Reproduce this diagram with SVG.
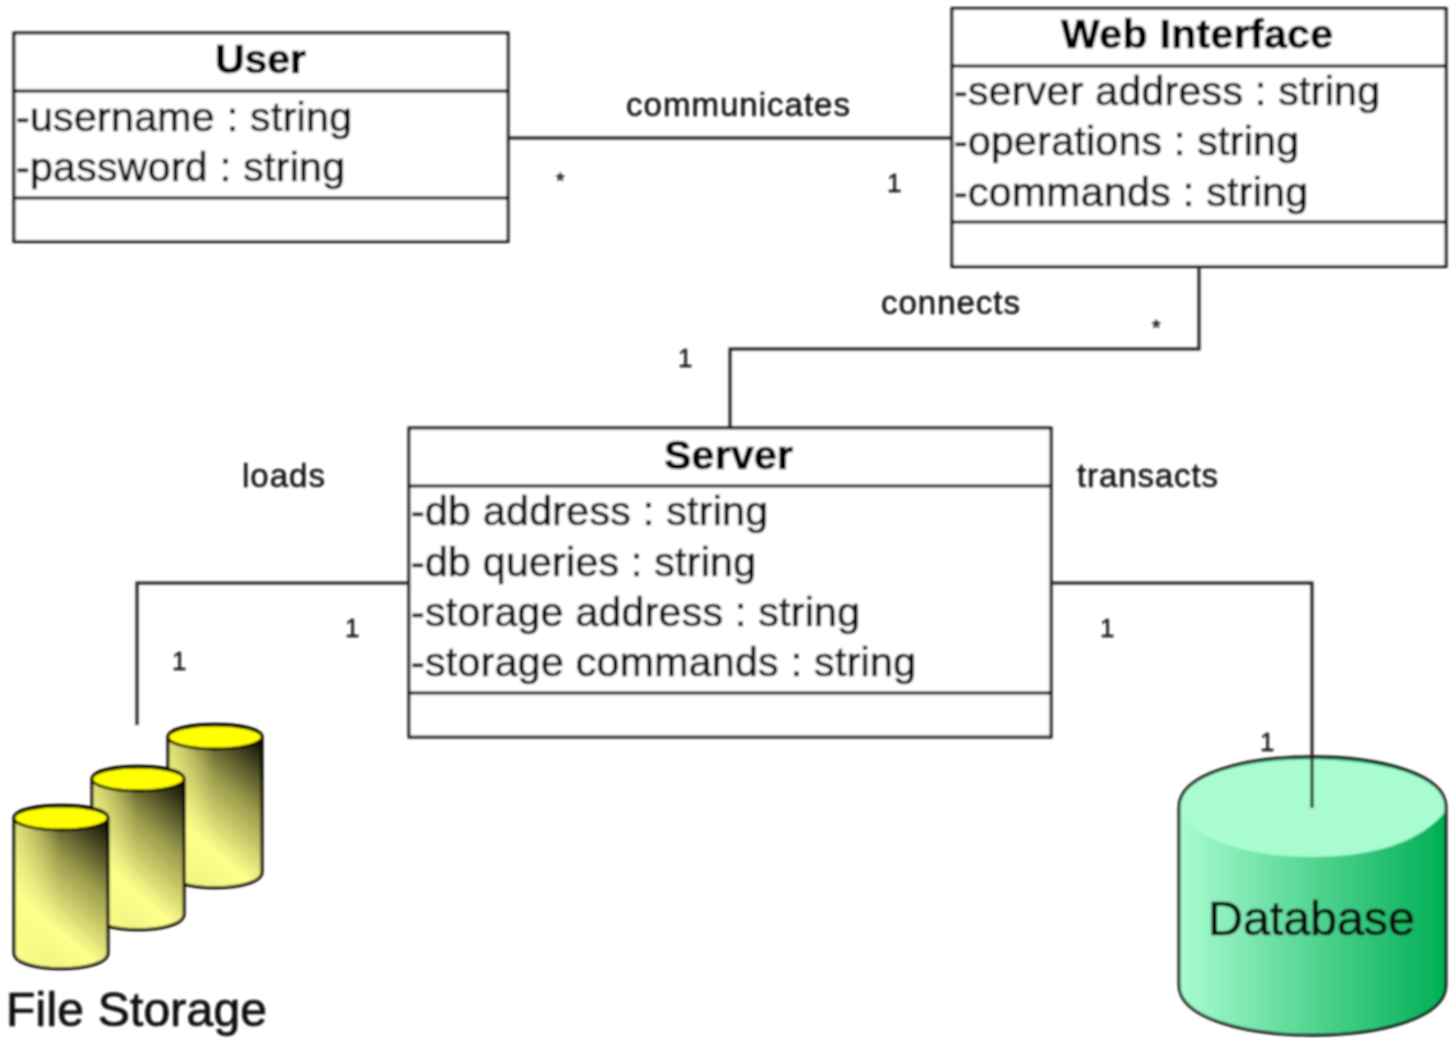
<svg xmlns="http://www.w3.org/2000/svg" width="1456" height="1038" viewBox="0 0 1456 1038">
<style>
text{font-family:"Liberation Sans",Arial,sans-serif;fill:#0a0a0a;stroke:#0a0a0a;stroke-width:.7}
.t{font-size:41px;font-weight:700;fill:#000;stroke:#000}
.a{font-size:41px}
.l{font-size:33px;stroke-width:.4}
.m{font-size:26px;stroke-width:.4}
.s{font-size:22px;stroke-width:.4}
.box{fill:#fff;stroke:#111;stroke-width:3}
.div{stroke:#000;stroke-width:3.200;fill:none}
.c{fill:none;stroke:#222;stroke-width:3}
.edge{fill:none;stroke:#000;stroke-width:3}
.top{fill:#ff0;stroke:#000;stroke-width:2.800}
</style>
<defs>
<filter id="soft" x="-2%" y="-2%" width="104%" height="104%"><feGaussianBlur stdDeviation="0.8"/></filter>
<linearGradient id="yg" gradientUnits="userSpaceOnUse" x1="0" y1="125" x2="94" y2="15"><stop offset="0" stop-color="#f4f484"/><stop offset="0.2" stop-color="#ffff8c"/><stop offset="0.6" stop-color="#9a9a4c"/><stop offset="1" stop-color="#0c0c04"/></linearGradient>
<linearGradient id="yh" gradientUnits="userSpaceOnUse" x1="0" y1="0" x2="45" y2="0"><stop offset="0" stop-color="#ffff8c" stop-opacity="0.7"/><stop offset="1" stop-color="#ffff8c" stop-opacity="0"/></linearGradient>
<linearGradient id="gg" x1="0" y1="0" x2="1" y2="0"><stop offset="0" stop-color="#a8fcd0"/><stop offset="1" stop-color="#00ae55"/></linearGradient>
<path id="side" d="M0 12C0 -5 94 -5 94 12V147C94 168 0 168 0 147Z"/>
<g id="cyl">
<use href="#side" fill="url(#yg)"/>
<use href="#side" fill="url(#yh)"/>
<use href="#side" class="edge"/>
<ellipse class="top" cx="47" cy="12" rx="47" ry="12"/>
</g>
</defs>
<rect width="1456" height="1038" fill="#fff"/>
<g filter="url(#soft)">
<g id="user">
<rect class="box" x="14" y="33" width="494" height="208.500"/>
<path class="div" d="M14 91H508M14 198H508"/>
<text class="t" x="215" y="73" textLength="91" lengthAdjust="spacing">User</text>
<text class="a" x="16" y="130.500" textLength="336" lengthAdjust="spacing">-username : string</text>
<text class="a" x="16" y="180.500" textLength="329" lengthAdjust="spacing">-password : string</text>
</g>
<g id="web-interface">
<rect class="box" x="952" y="8.500" width="494" height="258"/>
<path class="div" d="M952 66H1446M952 222H1446"/>
<text class="t" x="1061" y="48" textLength="272" lengthAdjust="spacing">Web Interface</text>
<text class="a" x="954" y="104.500" textLength="426" lengthAdjust="spacing">-server address : string</text>
<text class="a" x="954" y="155" textLength="345" lengthAdjust="spacing">-operations : string</text>
<text class="a" x="954" y="205.500" textLength="354" lengthAdjust="spacing">-commands : string</text>
</g>
<g id="server">
<rect class="box" x="409" y="428" width="642" height="309"/>
<path class="div" d="M409 486H1051M409 693H1051"/>
<text class="t" x="664" y="468.500" textLength="129" lengthAdjust="spacing">Server</text>
<text class="a" x="411" y="525" textLength="357" lengthAdjust="spacing">-db address : string</text>
<text class="a" x="411" y="575.500" textLength="345" lengthAdjust="spacing">-db queries : string</text>
<text class="a" x="411" y="625.500" textLength="449" lengthAdjust="spacing">-storage address : string</text>
<text class="a" x="411" y="675.500" textLength="505" lengthAdjust="spacing">-storage commands : string</text>
</g>
<g id="file-storage">
<use href="#cyl" transform="translate(168 725)"/>
<use href="#cyl" transform="translate(92 767) scale(.98 1)"/>
<use href="#cyl" transform="translate(14 806)"/>
<text x="6" y="1026" textLength="261" lengthAdjust="spacing" style="font-size:48px">File Storage</text>
</g>
<g id="database">
<path d="M1179 807C1179 740 1446 740 1446 807V985C1446 1052 1179 1052 1179 985Z" fill="url(#gg)"/>
<path d="M1180 807C1180 744 1445 744 1445 807V812C1420 842 1375 857 1312 857S1205 842 1180 816Z" fill="#a8fcd0"/>
<path d="M1179 807C1179 740 1446 740 1446 807V985C1446 1052 1179 1052 1179 985Z" fill="none" stroke="#111" stroke-width="2.800"/>
<text x="1208" y="935" textLength="207" lengthAdjust="spacing" style="font-size:48.500px">Database</text>
</g>
<g id="connectors">
<path class="c" d="M508 138H952"/>
<path class="c" d="M1199 266V349H730V428"/>
<path class="c" d="M409 583H137V725"/>
<path class="c" d="M1051 583H1312V808"/>
</g>
<g id="labels">
<text class="l" x="626" y="116" textLength="224" lengthAdjust="spacing">communicates</text>
<text class="s" x="556" y="188">*</text>
<text class="m" x="887" y="192">1</text>
<text class="l" x="881" y="314" textLength="139" lengthAdjust="spacing">connects</text>
<text class="s" x="1152" y="335">*</text>
<text class="m" x="678" y="367">1</text>
<text class="l" x="242" y="487" textLength="83" lengthAdjust="spacing">loads</text>
<text class="l" x="1077" y="487" textLength="141" lengthAdjust="spacing">transacts</text>
<text class="m" x="345" y="637">1</text>
<text class="m" x="172" y="670">1</text>
<text class="m" x="1100" y="637">1</text>
<text class="m" x="1260" y="751">1</text>
</g>
</g>
</svg>
